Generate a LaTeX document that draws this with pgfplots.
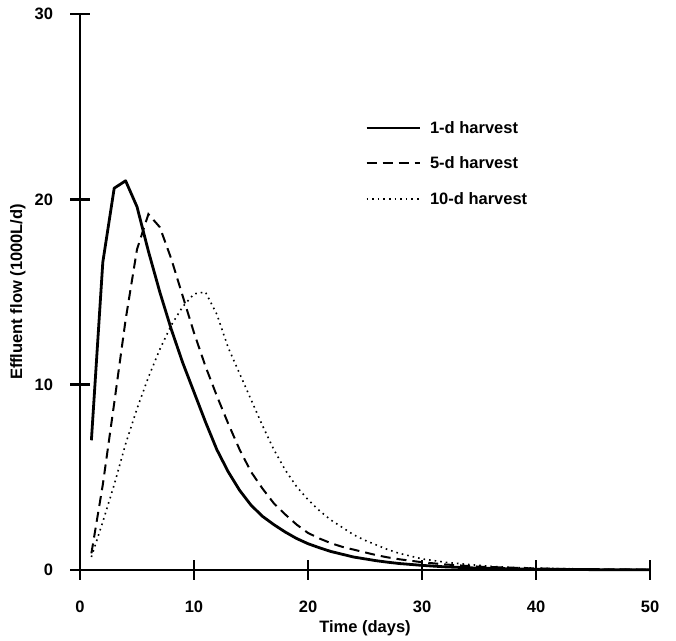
\documentclass[border=0pt]{standalone}
\usepackage{pgfplots}
\pgfplotsset{compat=1.18}
\usepackage{fontspec}
\setmainfont{Liberation Sans}

\begin{document}
\begin{tikzpicture}
\begin{axis}[
    scale only axis,
    width=570pt, height=556pt,
    xmin=0, xmax=50, ymin=0, ymax=30,
    axis lines=left,
    axis line style={-, line width=2.6pt},
    xtick={0,10,...,50}, ytick={0,10,20,30},
    tick align=center,
    major tick length=19pt,
    tick style={line width=2.6pt, black},
    /pgf/number format/assume math mode=true,
    ticklabel style={font=\fontsize{16.5}{18}\selectfont\bfseries},
    xticklabel style={yshift=-18pt},
    yticklabel style={xshift=-14pt},
    label style={font=\fontsize{16.5}{18}\selectfont\bfseries},
    xlabel={Time (days)},
    ylabel={Effluent flow (1000L/d)},
    xlabel style={at={(axis description cs:0.5,-0.104)}, anchor=center},
    ylabel style={at={(axis description cs:-0.109,0.5)}, anchor=center},
    clip=false,
    legend style={draw=none, fill=none, inner sep=0pt,
        at={(0.5,0.811)}, anchor=north west,
        row sep=18pt, font=\fontsize{16.5}{18}\selectfont\bfseries},
    legend cell align=left,
    legend image code/.code={\draw[#1] (0pt,0pt) -- (53pt,0pt); \path (60pt,0pt);},
]

% 1-d harvest
\addplot[black, line width=2.8pt, line join=round] coordinates {
 (1,7.0) (2,16.6) (3,20.6) (4,21.0) (5,19.6) (6,17.2) (7,15.0) (8,13.0)
 (9,11.2) (10,9.6) (11,8.0) (12,6.5) (13,5.3) (14,4.3) (15,3.5) (16,2.9)
 (17,2.45) (18,2.05) (19,1.7) (20,1.42) (21,1.2) (22,1.0) (23,0.85) (24,0.7)
 (25,0.6) (26,0.5) (27,0.42) (28,0.35) (29,0.3) (30,0.25) (32,0.17)
 (35,0.1) (40,0.04) (45,0.02) (50,0.01)
};

% 5-d harvest
\addplot[black, line width=2pt, dash pattern=on 10pt off 6pt] coordinates {
 (1,0.9) (2,4.6) (3,9.0) (4,13.5) (5,17.3) (6,19.2) (7,18.5) (8,16.8)
 (9,14.8) (10,12.8) (11,11.0) (12,9.4) (13,7.9) (14,6.5) (15,5.3) (16,4.4)
 (17,3.6) (18,3.0) (19,2.45) (20,2.0) (21,1.7) (22,1.45) (23,1.25) (24,1.1)
 (25,0.95) (26,0.8) (27,0.68) (28,0.58) (29,0.5) (30,0.42) (32,0.3)
 (35,0.18) (40,0.08) (45,0.04) (50,0.02)
};

% 10-d harvest
\addplot[black, line width=1.6pt, dash pattern=on 1.6pt off 4pt] coordinates {
 (1,0.7) (2,2.6) (3,4.6) (4,6.8) (5,8.7) (6,10.4) (7,11.9) (8,13.2)
 (9,14.2) (10,14.9) (11,15.0) (12,13.8) (13,12.0) (14,10.6) (15,9.2) (16,7.8)
 (17,6.5) (18,5.4) (19,4.5) (20,3.8) (21,3.2) (22,2.7) (23,2.3) (24,1.9)
 (25,1.6) (26,1.35) (27,1.1) (28,0.9) (29,0.75) (30,0.6) (32,0.42)
 (34,0.3) (36,0.2) (38,0.14) (40,0.1) (45,0.04) (50,0.02)
};

\legend{1-d harvest, 5-d harvest, 10-d harvest}

% page extent as in the reference
\path (rel axis cs:0,0) ++(-80pt,-71pt);
\path (rel axis cs:1,1) ++(26pt,14pt);
\end{axis}
\end{tikzpicture}
\end{document}
